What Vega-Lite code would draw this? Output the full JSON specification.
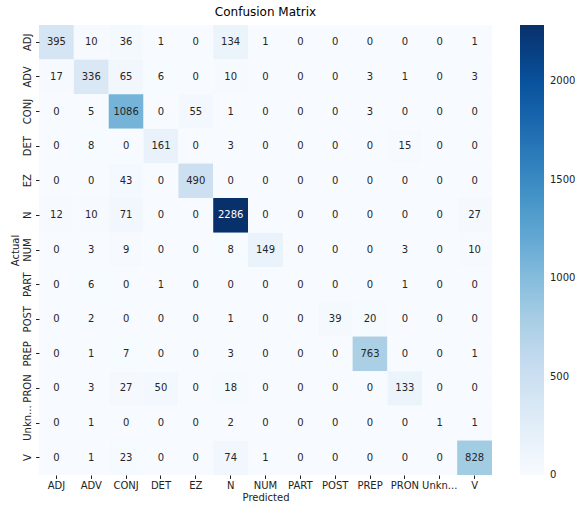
{
  "$schema": "https://vega.github.io/schema/vega-lite/v6.json",
  "width": 453,
  "height": 450,
  "autosize": {"type": "none"},
  "padding": {"left": 39, "top": 25, "right": 83, "bottom": 31},
  "title": {"text": "Confusion Matrix", "fontSize": 12, "fontWeight": "normal", "font": "DejaVu Sans", "color": "#000000", "offset": 6},
  "config": {
    "view": {"stroke": null},
    "axis": {"labelFont": "DejaVu Sans", "labelFontSize": 10, "labelColor": "#222222", "titleFont": "DejaVu Sans", "titleFontSize": 10, "titleFontWeight": "normal", "titleColor": "#222222", "tickColor": "#222222", "tickSize": 3.5, "domain": false, "grid": false},
    "legend": {"labelFont": "DejaVu Sans", "labelFontSize": 10, "labelColor": "#222222"}
  },
  "data": {"values": [
    {"a":"ADJ","p":"ADJ","v":395},{"a":"ADJ","p":"ADV","v":10},{"a":"ADJ","p":"CONJ","v":36},{"a":"ADJ","p":"DET","v":1},{"a":"ADJ","p":"EZ","v":0},{"a":"ADJ","p":"N","v":134},{"a":"ADJ","p":"NUM","v":1},{"a":"ADJ","p":"PART","v":0},{"a":"ADJ","p":"POST","v":0},{"a":"ADJ","p":"PREP","v":0},{"a":"ADJ","p":"PRON","v":0},{"a":"ADJ","p":"Unkn...","v":0},{"a":"ADJ","p":"V","v":1},
    {"a":"ADV","p":"ADJ","v":17},{"a":"ADV","p":"ADV","v":336},{"a":"ADV","p":"CONJ","v":65},{"a":"ADV","p":"DET","v":6},{"a":"ADV","p":"EZ","v":0},{"a":"ADV","p":"N","v":10},{"a":"ADV","p":"NUM","v":0},{"a":"ADV","p":"PART","v":0},{"a":"ADV","p":"POST","v":0},{"a":"ADV","p":"PREP","v":3},{"a":"ADV","p":"PRON","v":1},{"a":"ADV","p":"Unkn...","v":0},{"a":"ADV","p":"V","v":3},
    {"a":"CONJ","p":"ADJ","v":0},{"a":"CONJ","p":"ADV","v":5},{"a":"CONJ","p":"CONJ","v":1086},{"a":"CONJ","p":"DET","v":0},{"a":"CONJ","p":"EZ","v":55},{"a":"CONJ","p":"N","v":1},{"a":"CONJ","p":"NUM","v":0},{"a":"CONJ","p":"PART","v":0},{"a":"CONJ","p":"POST","v":0},{"a":"CONJ","p":"PREP","v":3},{"a":"CONJ","p":"PRON","v":0},{"a":"CONJ","p":"Unkn...","v":0},{"a":"CONJ","p":"V","v":0},
    {"a":"DET","p":"ADJ","v":0},{"a":"DET","p":"ADV","v":8},{"a":"DET","p":"CONJ","v":0},{"a":"DET","p":"DET","v":161},{"a":"DET","p":"EZ","v":0},{"a":"DET","p":"N","v":3},{"a":"DET","p":"NUM","v":0},{"a":"DET","p":"PART","v":0},{"a":"DET","p":"POST","v":0},{"a":"DET","p":"PREP","v":0},{"a":"DET","p":"PRON","v":15},{"a":"DET","p":"Unkn...","v":0},{"a":"DET","p":"V","v":0},
    {"a":"EZ","p":"ADJ","v":0},{"a":"EZ","p":"ADV","v":0},{"a":"EZ","p":"CONJ","v":43},{"a":"EZ","p":"DET","v":0},{"a":"EZ","p":"EZ","v":490},{"a":"EZ","p":"N","v":0},{"a":"EZ","p":"NUM","v":0},{"a":"EZ","p":"PART","v":0},{"a":"EZ","p":"POST","v":0},{"a":"EZ","p":"PREP","v":0},{"a":"EZ","p":"PRON","v":0},{"a":"EZ","p":"Unkn...","v":0},{"a":"EZ","p":"V","v":0},
    {"a":"N","p":"ADJ","v":12},{"a":"N","p":"ADV","v":10},{"a":"N","p":"CONJ","v":71},{"a":"N","p":"DET","v":0},{"a":"N","p":"EZ","v":0},{"a":"N","p":"N","v":2286},{"a":"N","p":"NUM","v":0},{"a":"N","p":"PART","v":0},{"a":"N","p":"POST","v":0},{"a":"N","p":"PREP","v":0},{"a":"N","p":"PRON","v":0},{"a":"N","p":"Unkn...","v":0},{"a":"N","p":"V","v":27},
    {"a":"NUM","p":"ADJ","v":0},{"a":"NUM","p":"ADV","v":3},{"a":"NUM","p":"CONJ","v":9},{"a":"NUM","p":"DET","v":0},{"a":"NUM","p":"EZ","v":0},{"a":"NUM","p":"N","v":8},{"a":"NUM","p":"NUM","v":149},{"a":"NUM","p":"PART","v":0},{"a":"NUM","p":"POST","v":0},{"a":"NUM","p":"PREP","v":0},{"a":"NUM","p":"PRON","v":3},{"a":"NUM","p":"Unkn...","v":0},{"a":"NUM","p":"V","v":10},
    {"a":"PART","p":"ADJ","v":0},{"a":"PART","p":"ADV","v":6},{"a":"PART","p":"CONJ","v":0},{"a":"PART","p":"DET","v":1},{"a":"PART","p":"EZ","v":0},{"a":"PART","p":"N","v":0},{"a":"PART","p":"NUM","v":0},{"a":"PART","p":"PART","v":0},{"a":"PART","p":"POST","v":0},{"a":"PART","p":"PREP","v":0},{"a":"PART","p":"PRON","v":1},{"a":"PART","p":"Unkn...","v":0},{"a":"PART","p":"V","v":0},
    {"a":"POST","p":"ADJ","v":0},{"a":"POST","p":"ADV","v":2},{"a":"POST","p":"CONJ","v":0},{"a":"POST","p":"DET","v":0},{"a":"POST","p":"EZ","v":0},{"a":"POST","p":"N","v":1},{"a":"POST","p":"NUM","v":0},{"a":"POST","p":"PART","v":0},{"a":"POST","p":"POST","v":39},{"a":"POST","p":"PREP","v":20},{"a":"POST","p":"PRON","v":0},{"a":"POST","p":"Unkn...","v":0},{"a":"POST","p":"V","v":0},
    {"a":"PREP","p":"ADJ","v":0},{"a":"PREP","p":"ADV","v":1},{"a":"PREP","p":"CONJ","v":7},{"a":"PREP","p":"DET","v":0},{"a":"PREP","p":"EZ","v":0},{"a":"PREP","p":"N","v":3},{"a":"PREP","p":"NUM","v":0},{"a":"PREP","p":"PART","v":0},{"a":"PREP","p":"POST","v":0},{"a":"PREP","p":"PREP","v":763},{"a":"PREP","p":"PRON","v":0},{"a":"PREP","p":"Unkn...","v":0},{"a":"PREP","p":"V","v":1},
    {"a":"PRON","p":"ADJ","v":0},{"a":"PRON","p":"ADV","v":3},{"a":"PRON","p":"CONJ","v":27},{"a":"PRON","p":"DET","v":50},{"a":"PRON","p":"EZ","v":0},{"a":"PRON","p":"N","v":18},{"a":"PRON","p":"NUM","v":0},{"a":"PRON","p":"PART","v":0},{"a":"PRON","p":"POST","v":0},{"a":"PRON","p":"PREP","v":0},{"a":"PRON","p":"PRON","v":133},{"a":"PRON","p":"Unkn...","v":0},{"a":"PRON","p":"V","v":0},
    {"a":"Unkn...","p":"ADJ","v":0},{"a":"Unkn...","p":"ADV","v":1},{"a":"Unkn...","p":"CONJ","v":0},{"a":"Unkn...","p":"DET","v":0},{"a":"Unkn...","p":"EZ","v":0},{"a":"Unkn...","p":"N","v":2},{"a":"Unkn...","p":"NUM","v":0},{"a":"Unkn...","p":"PART","v":0},{"a":"Unkn...","p":"POST","v":0},{"a":"Unkn...","p":"PREP","v":0},{"a":"Unkn...","p":"PRON","v":0},{"a":"Unkn...","p":"Unkn...","v":1},{"a":"Unkn...","p":"V","v":1},
    {"a":"V","p":"ADJ","v":0},{"a":"V","p":"ADV","v":1},{"a":"V","p":"CONJ","v":23},{"a":"V","p":"DET","v":0},{"a":"V","p":"EZ","v":0},{"a":"V","p":"N","v":74},{"a":"V","p":"NUM","v":1},{"a":"V","p":"PART","v":0},{"a":"V","p":"POST","v":0},{"a":"V","p":"PREP","v":0},{"a":"V","p":"PRON","v":0},{"a":"V","p":"Unkn...","v":0},{"a":"V","p":"V","v":828}
  ]},
  "encoding": {
    "x": {"field": "p", "type": "nominal", "sort": ["ADJ","ADV","CONJ","DET","EZ","N","NUM","PART","POST","PREP","PRON","Unkn...","V"], "scale": {"paddingInner": 0, "paddingOuter": 0}, "axis": {"title": "Predicted", "labelAngle": 0, "labelPadding": 2, "titlePadding": 2}},
    "y": {"field": "a", "type": "nominal", "sort": ["ADJ","ADV","CONJ","DET","EZ","N","NUM","PART","POST","PREP","PRON","Unkn...","V"], "scale": {"paddingInner": 0, "paddingOuter": 0}, "axis": {"title": "Actual", "labelAngle": 270, "labelAlign": "center", "labelBaseline": "bottom", "labelPadding": 3, "titlePadding": 2}}
  },
  "layer": [
    {
      "mark": {"type": "rect"},
      "encoding": {
        "color": {"field": "v", "type": "quantitative",
          "scale": {"domain": [0, 2286], "nice": false, "interpolate": "rgb", "range": ["#f7fbff","#deebf7","#c6dbef","#9ecae1","#6baed6","#4292c6","#2171b5","#08519c","#08306b"]},
          "legend": {"title": null, "orient": "right", "offset": 28, "gradientLength": 450, "gradientThickness": 24, "values": [0,500,1000,1500,2000], "format": "d", "labelOffset": 6, "gradientStrokeWidth": 0,
            "encode": {"labels": {"update": {"baseline": {"value": "middle"}}}}}}
      }
    },
    {
      "mark": {"type": "text", "font": "DejaVu Sans", "fontSize": 10},
      "encoding": {
        "text": {"field": "v", "type": "quantitative"},
        "color": {"condition": {"test": "datum.v > 1500", "value": "#ffffff"}, "value": "#262626"}
      }
    }
  ]
}
